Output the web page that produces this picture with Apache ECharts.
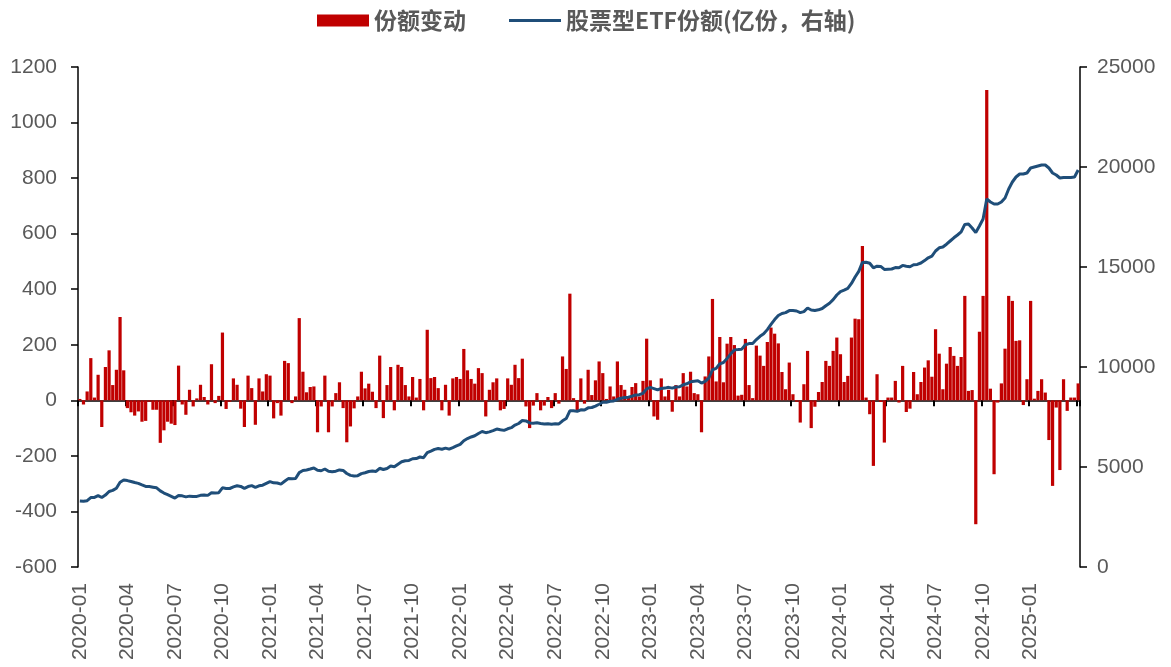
<!DOCTYPE html>
<html>
<head>
<meta charset="utf-8">
<script src="https://cdn.jsdelivr.net/npm/echarts@6/dist/echarts.min.js"></script>
<style>
html,body{margin:0;padding:0;background:#fff;}
#chart{width:1171px;height:667px;}
</style>
</head>
<body>
<div id="chart"></div>
<script>
// weekly share change (亿份), 2020-01-03 ... 2025-03-28
const shareChange = [
  5, -15, 32, 152, 10, 92, -96, 120, 180, 55, 110, 300, 108, -28, -43, -55, -40, -77, -74, -5, -34, -34, -153, -108, -77, -84, -89, 125, -15, -52, 38, -22, 7, 56, 12, -15, 130, -10, 16, 244, -31, -5, 79, 56, -30, -96, 89,
  44, -88, 79, 32, 94, 89, -65, -10, -55, 142, 134, -10, 14, 296, 103, 29, 48, 50, -115, -22, 89, -115, -22, 26, 65, -28, -151, -94, -29, 14, 103, 43, 60, 31, -28, 161, -64, 55, 120, -36, 128, 120, 55, 14, 84, 10, 77,
  -36, 254, 80, 84, 44, -36, 56, -55, 79, 84, 77, 185, 108, 77, 60, 116, 98, -58, 38, 65, 79, -36, -31, 79, 56, 128, 80, 150, -22, -100, -19, 26, -36, -19, 12, -28, 26, -12, 158, 113, 384, 8, -36, 79, -12, 110,
  19, 72, 140, 98, 5, 50, 14, 140, 55, 38, 14, 48, 62, 14, 70, 222, 72, -58, -70, 79, 14, 38, -41, 55, 14, 98, 50, 103, 26, 22, -115, 86, 158, 365, 68, 228, 65, 204, 228, 199, 17, 20, 221, 55, 8, 197, 161,
  124, 210, 262, 240, 205, 102, 40, 136, 22, -5, -80, 58, 178, -100, -23, 30, 66, 142, 124, 178, 226, 166, 66, 88, 226, 294, 292, 556, 10, -50, -236, 94, -6, -152, 10, 10, 70, -8, 124, -42, -30, 102, 22, 66, 118, 144,
  85, 256, 168, 40, 132, 192, 160, 124, 156, 376, 34, 37, -446, 247, 376, 1117, 42, -266, -8, 61, 186, 376, 358, 214, 216, -17, 76, 358, 6, 34, 76, 28, -143, -308, -26, -251, 76, -38, 10, 10, 61
];

// equity ETF total shares (亿份, right axis)
const etfShares = [
  3300, 3285, 3317, 3469, 3479, 3571, 3475, 3595, 3775, 3830, 3940, 4240, 4348, 4320, 4277, 4222, 4182, 4105, 4031, 4026, 3992, 3958, 3805, 3697, 3620, 3536, 3447, 3572, 3557, 3505, 3543, 3521, 3528, 3584, 3596, 3581, 3711, 3701, 3717, 3961, 3930, 3925, 4004, 4060, 4030, 3934, 4023,
  4067, 3979, 4058, 4090, 4184, 4273, 4208, 4198, 4143, 4285, 4419, 4409, 4423, 4719, 4822, 4851, 4899, 4949, 4834, 4812, 4901, 4786, 4764, 4790, 4855, 4827, 4676, 4582, 4553, 4567, 4670, 4713, 4773, 4804, 4776, 4937, 4873, 4928, 5048, 5012, 5140, 5260, 5315, 5329, 5413, 5423, 5500,
  5464, 5718, 5798, 5882, 5926, 5890, 5946, 5891, 5970, 6054, 6131, 6316, 6424, 6501, 6561, 6677, 6775, 6717, 6755, 6820, 6899, 6863, 6832, 6911, 6967, 7095, 7175, 7325, 7303, 7203, 7184, 7210, 7174, 7155, 7167, 7139, 7165, 7153, 7311, 7424, 7808, 7816, 7780, 7859, 7847, 7957,
  7976, 8048, 8138, 8236, 8241, 8291, 8305, 8385, 8440, 8478, 8492, 8540, 8602, 8616, 8686, 8908, 8980, 8922, 8852, 8931, 8945, 8983, 8942, 8997, 9011, 9109, 9159, 9262, 9288, 9310, 9195, 9281, 9439, 9864, 9932, 10160, 10225, 10429, 10657, 10856, 10873, 10893, 11114, 11169, 11177, 11374, 11535,
  11659, 11869, 12131, 12371, 12576, 12678, 12718, 12820, 12820, 12800, 12720, 12770, 12950, 12850, 12830, 12860, 12925, 13065, 13190, 13370, 13600, 13770, 13840, 13930, 14180, 14500, 14780, 15230, 15240, 15190, 14960, 15040, 15030, 14880, 14890, 14900, 14970, 14960, 15080, 15040, 15010, 15110, 15130, 15200, 15320, 15460,
  15545, 15800, 15960, 16000, 16140, 16300, 16460, 16600, 16760, 17130, 17150, 16950, 16720, 17050, 17400, 18400, 18250, 18150, 18150, 18250, 18450, 18900, 19250, 19500, 19650, 19650, 19700, 19950, 20000, 20050, 20100, 20100, 19950, 19700, 19600, 19450, 19480, 19470, 19480, 19500, 19850
];

const tickLabels = ['2020-01','2020-04','2020-07','2020-10','2021-01','2021-04','2021-07','2021-10',
  '2022-01','2022-04','2022-07','2022-10','2023-01','2023-04','2023-07','2023-10',
  '2024-01','2024-04','2024-07','2024-10','2025-01'];
const labelStep = 13; // weeks per quarter

const seriesNames = ['份额变动', '股票型ETF份额(亿份，右轴)'];

// weekly category dates
const categories = [];
(function(){
  const start = Date.UTC(2020, 0, 3);
  for (let i = 0; i < shareChange.length; i++) {
    const d = new Date(start + i * 7 * 86400000);
    categories.push(d.toISOString().slice(0, 10));
  }
})();

const axisFont = { fontFamily: 'Liberation Sans', fontSize: 21, color: '#595959' };
const black = '#000000';
const plain = function (v) { return String(v); };

const chart = echarts.init(document.getElementById('chart'), null, { renderer: 'canvas' });
chart.setOption({
  backgroundColor: '#ffffff',
  animation: false,
  legend: {
    left: 312,
    top: 4,
    itemWidth: 52,
    itemHeight: 12,
    itemGap: 43,
    symbolKeepAspect: true,
    textStyle: { fontFamily: 'Noto Sans CJK SC', fontSize: 23, fontWeight: 'bold', color: '#595959' },
    data: [
      { name: seriesNames[0], icon: 'rect' },
      { name: seriesNames[1], icon: 'path://M0,0H52V3H0Z' }
    ]
  },
  grid: { left: 78, right: 91, top: 67, bottom: 100, containLabel: false },
  xAxis: [
    {
      type: 'category',
      data: categories,
      position: 'bottom',
      boundaryGap: true,
      axisLine: { show: false, onZero: false },
      axisTick: { show: false },
      splitLine: { show: false },
      axisLabel: Object.assign({}, axisFont, {
        rotate: 90,
        margin: 16,
        interval: function (idx) { return idx % labelStep === 0; },
        formatter: function (val, idx) { return tickLabels[Math.round(idx / labelStep)] || ''; }
      })
    },
    {
      type: 'category',
      data: categories,
      position: 'bottom',
      boundaryGap: true,
      axisLine: { show: true, onZero: true, onZeroAxisIndex: 0, lineStyle: { color: black, width: 1.5 } },
      axisTick: { show: true, length: 6, interval: function (idx) { return idx % labelStep === 0; }, lineStyle: { color: black, width: 2 } },
      axisLabel: { show: false },
      splitLine: { show: false }
    }
  ],
  yAxis: [
    {
      type: 'value',
      min: -600, max: 1200, interval: 200,
      position: 'left',
      axisLine: { show: true, onZero: false, lineStyle: { color: black, width: 1.5 } },
      axisTick: { show: true, length: 7, lineStyle: { color: black, width: 1.5 } },
      splitLine: { show: false },
      axisLabel: Object.assign({}, axisFont, { margin: 21, formatter: plain })
    },
    {
      type: 'value',
      min: 0, max: 25000, interval: 5000,
      position: 'right',
      axisLine: { show: true, onZero: false, lineStyle: { color: black, width: 1.5 } },
      axisTick: { show: true, length: 7, lineStyle: { color: black, width: 1.5 } },
      splitLine: { show: false },
      axisLabel: Object.assign({}, axisFont, { margin: 17, formatter: plain })
    }
  ],
  series: [
    {
      name: seriesNames[0],
      type: 'bar',
      xAxisIndex: 0,
      yAxisIndex: 0,
      data: shareChange,
      barCategoryGap: '12%',
      itemStyle: { color: '#C00000' },
      z: 2
    },
    {
      name: seriesNames[1],
      type: 'line',
      xAxisIndex: 0,
      yAxisIndex: 1,
      data: etfShares,
      symbol: 'none',
      showSymbol: false,
      smooth: false,
      lineStyle: { color: '#1F4E79', width: 3 },
      itemStyle: { color: '#1F4E79' },
      z: 3
    }
  ]
});
</script>
</body>
</html>
